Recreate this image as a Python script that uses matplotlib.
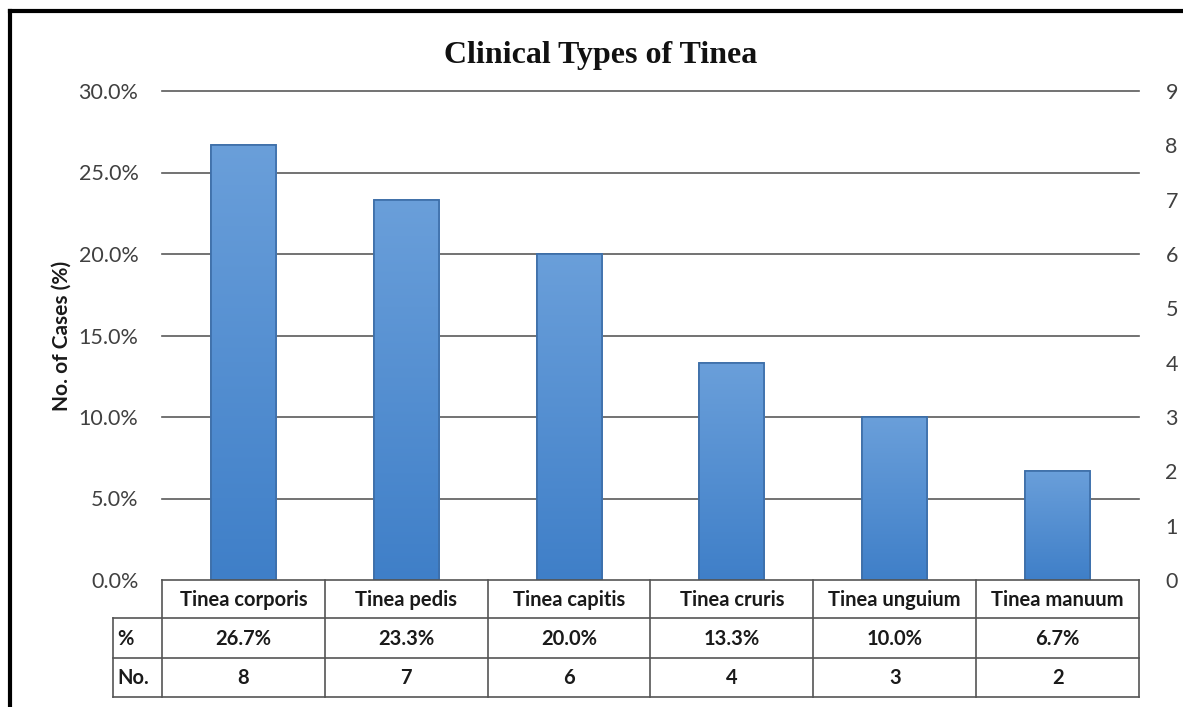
import numpy as np
import matplotlib
matplotlib.use("Agg")
import matplotlib.pyplot as plt
from matplotlib.lines import Line2D
from matplotlib.colors import LinearSegmentedColormap
import matplotlib.transforms as mtransforms

# Data
categories = ["Tinea corporis", "Tinea pedis", "Tinea capitis",
              "Tinea cruris", "Tinea unguium", "Tinea manuum"]
percent = [26.7, 23.3, 20.0, 13.3, 10.0, 6.7]
counts = [8, 7, 6, 4, 3, 2]
left_ticks = [0, 5, 10, 15, 20, 25, 30]
right_ticks = list(range(0, 10))

W, H = 1183, 707
fig = plt.figure(figsize=(W / 100, H / 100), dpi=100)
fig.patch.set_facecolor("white")

def fx(px):
    return px / W

def fy(py):
    return 1 - py / H

sans = ["Lato", "DejaVu Sans"]
tick_color = "#404040"

ax = fig.add_axes([fx(162), fy(580), fx(1139) - fx(162), fy(91) - fy(580)])
ax.set_xlim(-0.5, len(categories) - 0.5)
ax.set_ylim(0, 30)
for s in ax.spines.values():
    s.set_visible(False)

# Horizontal gridlines at the percentage ticks
for t in left_ticks[1:]:
    ax.axhline(t, color="#5a5a5a", lw=1.2, zorder=1, clip_on=False)

ax.set_yticks(left_ticks)
ax.set_yticklabels([f"{t:.1f}%" for t in left_ticks], fontsize=15.5,
                   color=tick_color, family=sans)
ax.tick_params(axis="y", length=0, pad=17)
ax.set_xticks([])

ax.set_ylabel("No. of Cases (%)", fontsize=15, fontweight="bold",
              family=sans, labelpad=5, color="#1a1a1a")

# Secondary axis with the case counts
ax2 = ax.twinx()
ax2.set_ylim(0, 9)
for s in ax2.spines.values():
    s.set_visible(False)
ax2.set_yticks(right_ticks)
ax2.set_yticklabels([str(t) for t in right_ticks], fontsize=15.5,
                    color=tick_color, family=sans)
ax2.tick_params(axis="y", length=0, pad=19)

# Bars with a vertical blue gradient
x = np.arange(len(categories))
bars = ax.bar(x, percent, width=0.4, color="#5b93d3",
              edgecolor="#3d6ea8", linewidth=1.2, zorder=3)
cmap = LinearSegmentedColormap.from_list("barfade", ["#3f7fc8", "#6a9fda"])
grad = np.linspace(0, 1, 256).reshape(-1, 1)
for b in bars:
    x0, y0 = b.get_x(), b.get_y()
    w, h = b.get_width(), b.get_height()
    im = ax.imshow(grad, cmap=cmap, origin="lower", aspect="auto",
                   extent=(x0, x0 + w, y0, y0 + h), zorder=3.5)
    im.set_clip_path(b)
    ax.add_patch(plt.Rectangle((x0, y0), w, h, fill=False,
                               edgecolor="#3d6ea8", lw=1.2, zorder=4))
ax.set_xlim(-0.5, len(categories) - 0.5)
ax.set_ylim(0, 30)

# Data table below the chart
trans = mtransforms.blended_transform_factory(ax.transData, fig.transFigure)
line_kw = dict(color="#555555", lw=1.2, clip_on=False)
row_y = [580, 618, 658, 697]
col_edges = [i - 0.5 for i in range(len(categories) + 1)]
x_left_fig = fx(113)

# horizontal lines
fig.add_artist(Line2D([fx(162), fx(1139)], [fy(580), fy(580)], **line_kw))
for ry in row_y[1:]:
    fig.add_artist(Line2D([x_left_fig, fx(1139)], [fy(ry), fy(ry)], **line_kw))
# vertical lines
for ce in col_edges:
    fig.add_artist(Line2D([ce, ce], [fy(580), fy(697)], transform=trans, **line_kw))
fig.add_artist(Line2D([x_left_fig, x_left_fig], [fy(618), fy(697)], **line_kw))

txt_kw = dict(fontsize=14.5, fontweight="bold", family=sans,
              color="#1a1a1a", va="center")
for i, (c, p, n) in enumerate(zip(categories, percent, counts)):
    ax.text(i, fy(600), c, transform=trans, ha="center", **txt_kw)
    ax.text(i, fy(639), f"{p:.1f}%", transform=trans, ha="center", **txt_kw)
    ax.text(i, fy(678), str(n), transform=trans, ha="center", **txt_kw)
fig.text(fx(117), fy(639), "%", ha="left", **txt_kw)
fig.text(fx(117), fy(678), "No.", ha="left", **txt_kw)

# Title
fig.text(fx(601), fy(55), "Clinical Types of Tinea", ha="center", va="center",
         fontsize=23, fontweight="bold", family=["Liberation Serif", "DejaVu Serif"],
         color="#111111")

# Frame edges at the left and top
fig.add_artist(Line2D([fx(10), fx(10)], [fy(11), 0], color="black", lw=3))
fig.add_artist(Line2D([fx(10), 1], [fy(11), fy(11)], color="black", lw=3))

fig.savefig("out.png", dpi=100, facecolor="white")
